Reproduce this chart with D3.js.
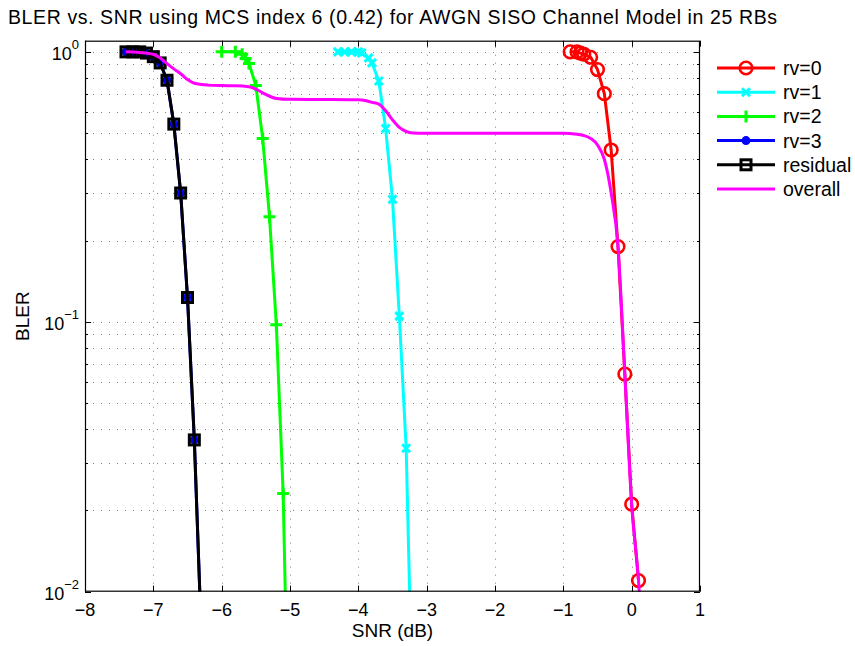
<!DOCTYPE html>
<html lang="en">
<head>
    <meta charset="UTF-8">
    <title>BLER vs. SNR</title>
    <script src="https://cdn.jsdelivr.net/npm/d3@7"></script>
    <style>
        body { margin: 0; background: #fff; }
        text { font-family: "Liberation Sans", Arial, sans-serif; fill: #000; }
    </style>
</head>
<body>
    <svg id="main" width="855" height="646"></svg>
    <script>
        // data
        const xTicks = [-8, -7, -6, -5, -4, -3, -2, -1, 0, 1];
        const yTicks = [0.01, 0.1, 1];
        const yTickExp = ['\u22122', '\u22121', '0'];

        const snrRv0 = [-0.9, -0.8, -0.75, -0.7, -0.6, -0.5, -0.4, -0.3, -0.2, -0.1, 0.0, 0.1];
        const blerRv0 = [1.0, 1.0, 0.99, 0.98, 0.955, 0.86, 0.70, 0.433, 0.19, 0.064, 0.0211, 0.011];

        const snrRv1 = [-4.3, -4.2, -4.1, -4.0, -3.95, -3.85, -3.8, -3.7, -3.6, -3.5, -3.4, -3.3, -3.2];
        const blerRv1 = [1.0, 1.0, 1.0, 1.0, 0.99, 0.95, 0.91, 0.78, 0.52, 0.284, 0.105, 0.034, 0.003];

        const snrRv2 = [-6.0, -5.8, -5.7, -5.65, -5.6, -5.5, -5.4, -5.3, -5.2, -5.1, -5.0];
        const blerRv2 = [1.0, 1.0, 0.98, 0.945, 0.906, 0.75, 0.478, 0.245, 0.0975, 0.0231, 0.0015];

        const snrRv3 = [-7.4, -7.3, -7.2, -7.1, -7.0, -6.9, -6.8, -6.7, -6.6, -6.5, -6.4, -6.3];
        const blerRv3 = [1.0, 1.0, 1.0, 0.99, 0.96, 0.91, 0.785, 0.54, 0.30, 0.123, 0.0365, 0.0072];

        const snrResidual = [-7.4, -7.3, -7.2, -7.1, -7.0, -6.9, -6.8, -6.7, -6.6, -6.5, -6.4, -6.3];
        const blerResidual = [1.0, 1.0, 1.0, 0.99, 0.96, 0.91, 0.785, 0.54, 0.30, 0.123, 0.0365, 0.0072];

        const snrOverall = [-7.4, -7.2, -7.0, -6.9, -6.8, -6.7, -6.6, -6.5, -6.4, -6.2, -6.0, -5.8, -5.6, -5.5, -5.4, -5.3, -5.2, -5.0,
            -4.5, -4.0, -3.9, -3.8, -3.7, -3.6, -3.5, -3.4, -3.3, -3.2, -3.0, -2.0, -1.0, -0.8, -0.7, -0.6, -0.5, -0.4, -0.3,
            -0.2, -0.1, 0.0, 0.1, 0.2];
        const blerOverall = [1.0, 0.995, 0.98, 0.95, 0.905, 0.865, 0.83, 0.79, 0.765, 0.753, 0.75, 0.749, 0.742, 0.728, 0.705, 0.685, 0.672, 0.667,
            0.666, 0.664, 0.66, 0.65, 0.64, 0.605, 0.56, 0.525, 0.507, 0.501, 0.5, 0.5, 0.5, 0.495, 0.49, 0.478, 0.452, 0.40, 0.30,
            0.19, 0.064, 0.021, 0.011, 0.004];

        const series = [
            { name: 'rv=0', x: snrRv0, y: blerRv0, color: '#ff0000', marker: 'o' },
            { name: 'rv=1', x: snrRv1, y: blerRv1, color: '#00ffff', marker: 'x' },
            { name: 'rv=2', x: snrRv2, y: blerRv2, color: '#00ff00', marker: '+' },
            { name: 'rv=3', x: snrRv3, y: blerRv3, color: '#0000ff', marker: 'dot' },
            { name: 'residual', x: snrResidual, y: blerResidual, color: '#000000', marker: 's' },
            { name: 'overall', x: snrOverall, y: blerOverall, color: '#ff00ff', marker: null, smooth: true }
        ];

        const svg = d3.select('#main');
        const pLeft = 85, pRight = 700, pTop = 40.7, pBottom = 591.7;

        const x = d3.scaleLinear().domain([-8, 1]).range([pLeft, pRight]);
        const y = d3.scaleLog().domain([0.01, 1.1]).range([pBottom, pTop]);

        svg.append('defs').append('clipPath').attr('id', 'clip')
            .append('rect')
            .attr('x', pLeft).attr('y', pTop)
            .attr('width', pRight - pLeft).attr('height', pBottom - pTop);

        // grid
        const minor = [];
        for (let d = -2; d < 0; d++) {
            for (let m = 1; m <= 9; m++) minor.push(m * Math.pow(10, d));
        }
        minor.push(1);

        const grid = svg.append('g')
            .attr('stroke', '#808080')
            .attr('stroke-width', 1)
            .attr('stroke-dasharray', '1,7');
        grid.selectAll('.gx').data(xTicks.slice(1, -1)).enter().append('line')
            .attr('x1', d => Math.round(x(d)) + 0.5).attr('x2', d => Math.round(x(d)) + 0.5)
            .attr('y1', pBottom).attr('y2', pTop);
        grid.selectAll('.gy').data(minor.slice(1)).enter().append('line')
            .attr('x1', pLeft).attr('x2', pRight)
            .attr('y1', d => Math.round(y(d)) + 0.5).attr('y2', d => Math.round(y(d)) + 0.5);

        // ticks, inward on every side
        const ticks = svg.append('g').attr('stroke', '#000').attr('stroke-width', 1);
        xTicks.forEach(t => {
            const px = Math.round(x(t)) + 0.5;
            ticks.append('line').attr('x1', px).attr('x2', px).attr('y1', pBottom).attr('y2', pBottom - 6);
            ticks.append('line').attr('x1', px).attr('x2', px).attr('y1', pTop).attr('y2', pTop + 6);
        });
        minor.forEach(t => {
            const py = Math.round(y(t)) + 0.5;
            const len = yTicks.includes(t) ? 6 : 3;
            ticks.append('line').attr('x1', pLeft).attr('x2', pLeft + len).attr('y1', py).attr('y2', py);
            ticks.append('line').attr('x1', pRight).attr('x2', pRight - len).attr('y1', py).attr('y2', py);
        });

        function drawMarker(g, type, cx, cy, color) {
            if (type === 'o') {
                g.append('circle').attr('cx', cx).attr('cy', cy).attr('r', 6.3)
                    .attr('fill', 'none').attr('stroke', color).attr('stroke-width', 2.6);
            } else if (type === 'x') {
                g.append('path').attr('d', `M${cx - 4},${cy - 4}L${cx + 4},${cy + 4}M${cx - 4},${cy + 4}L${cx + 4},${cy - 4}`)
                    .attr('stroke', color).attr('stroke-width', 3).attr('fill', 'none');
            } else if (type === '+') {
                g.append('path').attr('d', `M${cx - 6},${cy}L${cx + 6},${cy}M${cx},${cy - 6}L${cx},${cy + 6}`)
                    .attr('stroke', color).attr('stroke-width', 3).attr('fill', 'none');
            } else if (type === 'dot') {
                g.append('circle').attr('cx', cx).attr('cy', cy).attr('r', 4.5).attr('fill', color);
            } else if (type === 's') {
                g.append('rect').attr('x', cx - 5).attr('y', cy - 5).attr('width', 10).attr('height', 10)
                    .attr('fill', 'none').attr('stroke', color).attr('stroke-width', 3);
            }
        }

        const plot = svg.append('g').attr('clip-path', 'url(#clip)');
        series.forEach(s => {
            const pts = s.x.map((v, i) => [x(v), y(s.y[i])]);
            const line = d3.line().curve(s.smooth ? d3.curveMonotoneX : d3.curveLinear);
            plot.append('path').attr('d', line(pts))
                .attr('fill', 'none').attr('stroke', s.color).attr('stroke-width', 3)
                .attr('stroke-linejoin', 'round');
            if (s.marker) {
                const mg = plot.append('g');
                pts.forEach(p => drawMarker(mg, s.marker, p[0], p[1], s.color));
            }
        });

        // axes box
        svg.append('rect').attr('x', pLeft + 0.5).attr('y', pTop + 0.5)
            .attr('width', pRight - pLeft - 1).attr('height', pBottom - pTop - 1)
            .attr('fill', 'none').attr('stroke', '#000').attr('stroke-width', 1.2);

        // tick labels
        svg.selectAll('.xl').data(xTicks).enter().append('text')
            .attr('x', d => x(d)).attr('y', pBottom + 24)
            .attr('text-anchor', 'middle').attr('font-size', 18)
            .text(d => d < 0 ? '\u2212' + Math.abs(d) : d);

        yTicks.forEach((t, i) => {
            const tx = svg.append('text')
                .attr('x', pLeft - 6).attr('y', y(t) + 8)
                .attr('text-anchor', 'end').attr('font-size', 18);
            tx.append('tspan').text('10');
            tx.append('tspan').attr('dy', -11).attr('font-size', 13).text(yTickExp[i]);
        });

        // titles
        svg.append('text').attr('x', 392.5).attr('y', 24)
            .attr('text-anchor', 'middle').attr('font-size', 19.5)
            .attr('textLength', 769).attr('lengthAdjust', 'spacing')
            .text('BLER vs. SNR using MCS index 6 (0.42) for AWGN SISO Channel Model in 25 RBs');
        svg.append('text').attr('x', (pLeft + pRight) / 2).attr('y', 637)
            .attr('text-anchor', 'middle').attr('font-size', 19)
            .text('SNR (dB)');
        svg.append('text').attr('transform', `translate(29,${(pTop + pBottom) / 2}) rotate(-90)`)
            .attr('text-anchor', 'middle').attr('font-size', 19)
            .text('BLER');

        // legend
        const legend = svg.append('g');
        series.forEach((s, i) => {
            const ly = 68 + i * 24.2;
            legend.append('line').attr('x1', 717).attr('x2', 775).attr('y1', ly).attr('y2', ly)
                .attr('stroke', s.color).attr('stroke-width', 3);
            if (s.marker) drawMarker(legend, s.marker, 746, ly, s.color);
            legend.append('text').attr('x', 783).attr('y', ly + 7).attr('font-size', 19.5).text(s.name);
        });
    </script>
</body>
</html>
